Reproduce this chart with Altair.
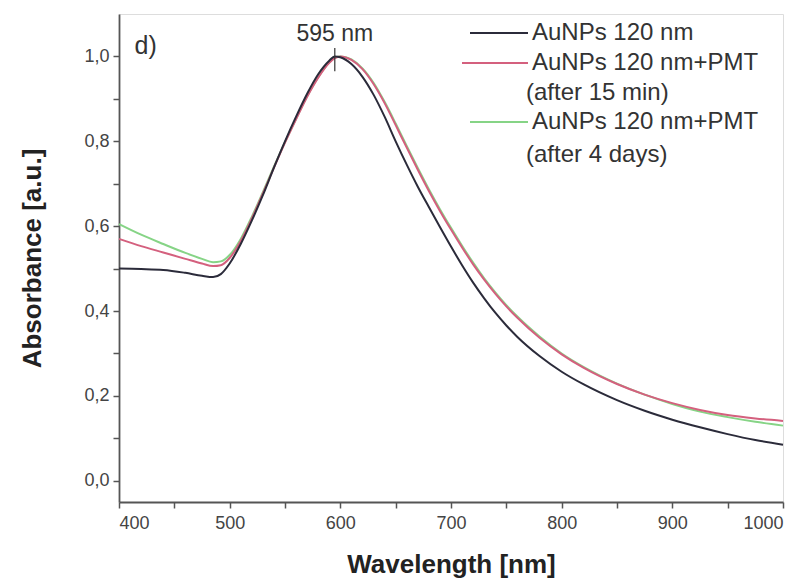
import altair as alt
import pandas as pd

wavelength = [400, 420, 440, 460, 475, 485, 492, 500, 510, 520, 530, 540, 550, 560, 570, 580,
              590, 595, 600, 610, 620, 630, 640, 650, 660, 670, 680, 690, 700, 710, 720, 730,
              740, 750, 760, 780, 800, 820, 850, 875, 900, 925, 950, 975, 1000]

abs_black = [0.500, 0.499, 0.497, 0.490, 0.483, 0.480, 0.487, 0.512, 0.558, 0.613, 0.673, 0.738,
             0.800, 0.858, 0.912, 0.958, 0.990, 1.000, 0.998, 0.982, 0.952, 0.910, 0.858, 0.800,
             0.745, 0.693, 0.645, 0.598, 0.552, 0.508, 0.467, 0.430, 0.396, 0.366, 0.339, 0.294,
             0.257, 0.227, 0.190, 0.165, 0.144, 0.126, 0.110, 0.096, 0.085]

abs_red = [0.570, 0.553, 0.538, 0.523, 0.512, 0.506, 0.508, 0.525, 0.565, 0.618, 0.677, 0.738,
           0.797, 0.852, 0.905, 0.950, 0.985, 0.996, 1.000, 0.992, 0.970, 0.935, 0.890, 0.838,
           0.785, 0.733, 0.683, 0.636, 0.592, 0.550, 0.510, 0.474, 0.441, 0.411, 0.384, 0.337,
           0.298, 0.266, 0.228, 0.203, 0.183, 0.167, 0.155, 0.147, 0.141]

abs_green = [0.605, 0.580, 0.558, 0.537, 0.523, 0.515, 0.517, 0.532, 0.570, 0.622, 0.680, 0.740,
             0.798, 0.853, 0.906, 0.951, 0.986, 0.997, 1.000, 0.993, 0.972, 0.938, 0.893, 0.842,
             0.789, 0.737, 0.687, 0.640, 0.596, 0.554, 0.514, 0.477, 0.444, 0.414, 0.387, 0.340,
             0.300, 0.268, 0.229, 0.203, 0.181, 0.163, 0.150, 0.139, 0.130]

series_names = ["AuNPs 120 nm", "AuNPs 120 nm+PMT (after 15 min)", "AuNPs 120 nm+PMT (after 4 days)"]
series_colors = ["#2b2b3a", "#d4607e", "#86d486"]

rows = []
for name, vals, order in [(series_names[2], abs_green, 0), (series_names[1], abs_red, 1), (series_names[0], abs_black, 2)]:
    for w, a in zip(wavelength, vals):
        rows.append({"wl": w, "A": a, "series": name, "order": order})
df = pd.DataFrame(rows)

xscale = alt.Scale(domain=[400, 1000], nice=False, zero=False)
yscale = alt.Scale(domain=[-0.05, 1.1], nice=False, zero=False)

x_ticks = [400, 450, 500, 550, 600, 650, 700, 750, 800, 850, 900, 950, 1000]
y_ticks = [0.0, 0.1, 0.2, 0.3, 0.4, 0.5, 0.6, 0.7, 0.8, 0.9, 1.0]

FONT = "Liberation Sans"

xaxis = alt.Axis(values=x_ticks, title="Wavelength [nm]",
                 labelExpr="datum.value % 100 == 0 ? format(datum.value, 'd') : ''",
                 labelFontSize=18, labelColor="#444", labelFont=FONT, labelPadding=6,
                 titleFontSize=26, titleFont=FONT, titleFontWeight="bold", titleColor="#222",
                 titlePadding=19, grid=False, tickSize=6, tickWidth=1.5, tickColor="#555",
                 domainColor="#555", domainWidth=1.8)
yaxis = alt.Axis(values=y_ticks, title="Absorbance [a.u.]",
                 labelExpr="abs(round(datum.value*10)) % 2 == 0 ? replace(format(datum.value, '.1f'), '.', ',') : ''",
                 labelFontSize=18, labelColor="#444", labelFont=FONT, labelPadding=4,
                 titleFontSize=26, titleFont=FONT, titleFontWeight="bold", titleColor="#222",
                 titlePadding=38, grid=False, tickSize=6, tickWidth=1.5, tickColor="#555",
                 domainColor="#555", domainWidth=1.8)

lines = alt.Chart(df).mark_line(strokeWidth=2, interpolate="monotone").encode(
    x=alt.X("wl:Q", scale=xscale, axis=xaxis),
    y=alt.Y("A:Q", scale=yscale, axis=yaxis),
    color=alt.Color("series:N", scale=alt.Scale(domain=series_names, range=series_colors), legend=None),
    detail="series:N",
    order="order:Q",
)

peak_df = pd.DataFrame({"wl": [595], "y1": [0.965], "y2": [1.02], "ty": [1.052], "label": ["595 nm"]})
peak_rule = alt.Chart(peak_df).mark_rule(color="#333", strokeWidth=1.2).encode(
    x="wl:Q", y="y1:Q", y2="y2:Q")
peak_text = alt.Chart(peak_df).mark_text(fontSize=23, font=FONT, color="#333", baseline="middle").encode(
    x="wl:Q", y="ty:Q", text="label:N")

panel_df = pd.DataFrame({"wl": [414], "A": [1.024], "label": ["d)"]})
panel_text = alt.Chart(panel_df).mark_text(fontSize=25, font=FONT, color="#333", align="left", baseline="middle").encode(
    x="wl:Q", y="A:Q", text="label:N")

# manual legend (pixel positions inside the plot area)
leg_line_x1 = [351, 343, 351]
leg_line_y = [19, 49, 108]
leg_parts = []
for x1, yy, col in zip(leg_line_x1, leg_line_y, series_colors):
    leg_parts.append(alt.Chart(peak_df).mark_rule(color=col, strokeWidth=2).encode(
        x=alt.value(x1), x2=alt.value(409), y=alt.value(yy)))

leg_texts = ["AuNPs 120 nm", "AuNPs 120 nm+PMT", "(after 15 min)", "AuNPs 120 nm+PMT", "(after 4 days)"]
leg_text_x = [413, 413, 407, 413, 407]
leg_text_y = [19, 49, 79, 108, 141]
for t, xx, yy in zip(leg_texts, leg_text_x, leg_text_y):
    leg_parts.append(alt.Chart(peak_df).mark_text(fontSize=24, font=FONT, color="#333", align="left",
                                                  baseline="middle", text=t).encode(
        x=alt.value(xx), y=alt.value(yy)))

chart = alt.layer(lines, peak_rule, peak_text, panel_text, *leg_parts).properties(
    width=664, height=488,
    autosize=alt.AutoSizeParams(type="none"),
    padding={"left": 111, "top": 6, "right": 18, "bottom": 80},
).configure_view(stroke="#777", strokeWidth=1.5).configure(background="white")

chart.save("out.html", embed_options={"renderer": "svg", "actions": False})
